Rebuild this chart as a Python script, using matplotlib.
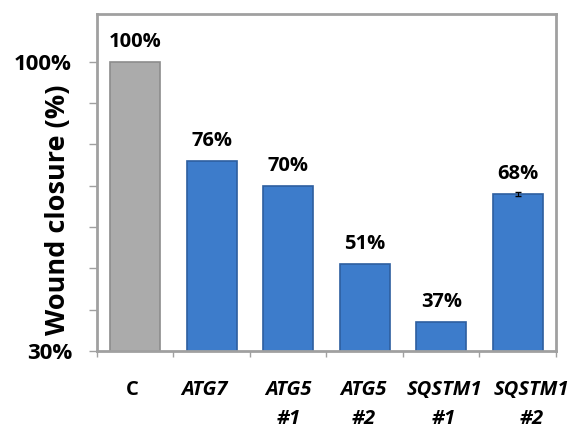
import matplotlib.pyplot as plt

# Data
categories = ['C', 'ATG7', 'ATG5\n#1', 'ATG5\n#2', 'SQSTM1\n#1', 'SQSTM1\n#2']
closure = [100, 76, 70, 51, 37, 68]
errors = [0, 0, 0, 0, 0, 0.4]
bar_labels = ['100%', '76%', '70%', '51%', '37%', '68%']
ytick_values = [30, 40, 50, 60, 70, 80, 90, 100]
ytick_labels = ['30%', '', '', '', '', '', '', '100%']

# small horizontal nudges (points) of the category labels, as in the original
label_nudge = [-2, -5, 0, -1, 2, 10]

plt.rcParams['font.family'] = ['Open Sans', 'DejaVu Sans']

fig = plt.figure(figsize=(5.77, 4.28), dpi=100)
ax = fig.add_axes([0.168, 0.18, 0.7956, 0.787])

face = ['#ABABAB'] + ['#3D7CCB'] * 5
edge = ['#8C8C8C'] + ['#2E5F9F'] * 5
x = list(range(len(categories)))
ax.bar(x, closure, width=0.65, color=face, edgecolor=edge, linewidth=1.2)

# only draw error bars where there is an error
for xi, val, err in zip(x, closure, errors):
    if err > 0:
        ax.errorbar(xi, val, yerr=err, fmt='none', ecolor='black',
                    capsize=2, elinewidth=0.8)

for xi, val, lab in zip(x, closure, bar_labels):
    ax.annotate(lab, (xi, val), xytext=(0, 7), textcoords='offset points',
                ha='center', va='bottom', fontsize=14.5, fontweight='bold')

ax.set_xlim(-0.5, len(categories) - 0.5)
ax.set_ylim(30, 111.5)
ax.set_yticks(ytick_values)
ax.set_yticklabels(ytick_labels, fontsize=16, fontweight='bold')
ax.tick_params(axis='y', length=6, width=1, color='#A0A0A0', pad=12)

# category ticks at bar boundaries
ax.set_xticks([i - 0.5 for i in range(len(categories) + 1)])
ax.set_xticklabels([])
ax.tick_params(axis='x', length=4, width=1, color='#A0A0A0')

# category labels under the bars
for i, (xi, cat) in enumerate(zip(x, categories)):
    ax.annotate(cat, (xi, 0), xycoords=ax.get_xaxis_transform(),
                xytext=(label_nudge[i], -21), textcoords='offset points',
                ha='center', va='top', fontsize=14.5, fontweight='bold',
                fontstyle='normal' if i == 0 else 'italic', linespacing=1.6,
                annotation_clip=False)

for sp in ax.spines.values():
    sp.set_color('#A0A0A0')
    sp.set_linewidth(2)

ax.set_ylabel('Wound closure (%)', fontsize=19.5, fontweight='bold', va='center')
ax.yaxis.set_label_coords(-0.085, 0.42)

fig.savefig('out.png', dpi=100)
